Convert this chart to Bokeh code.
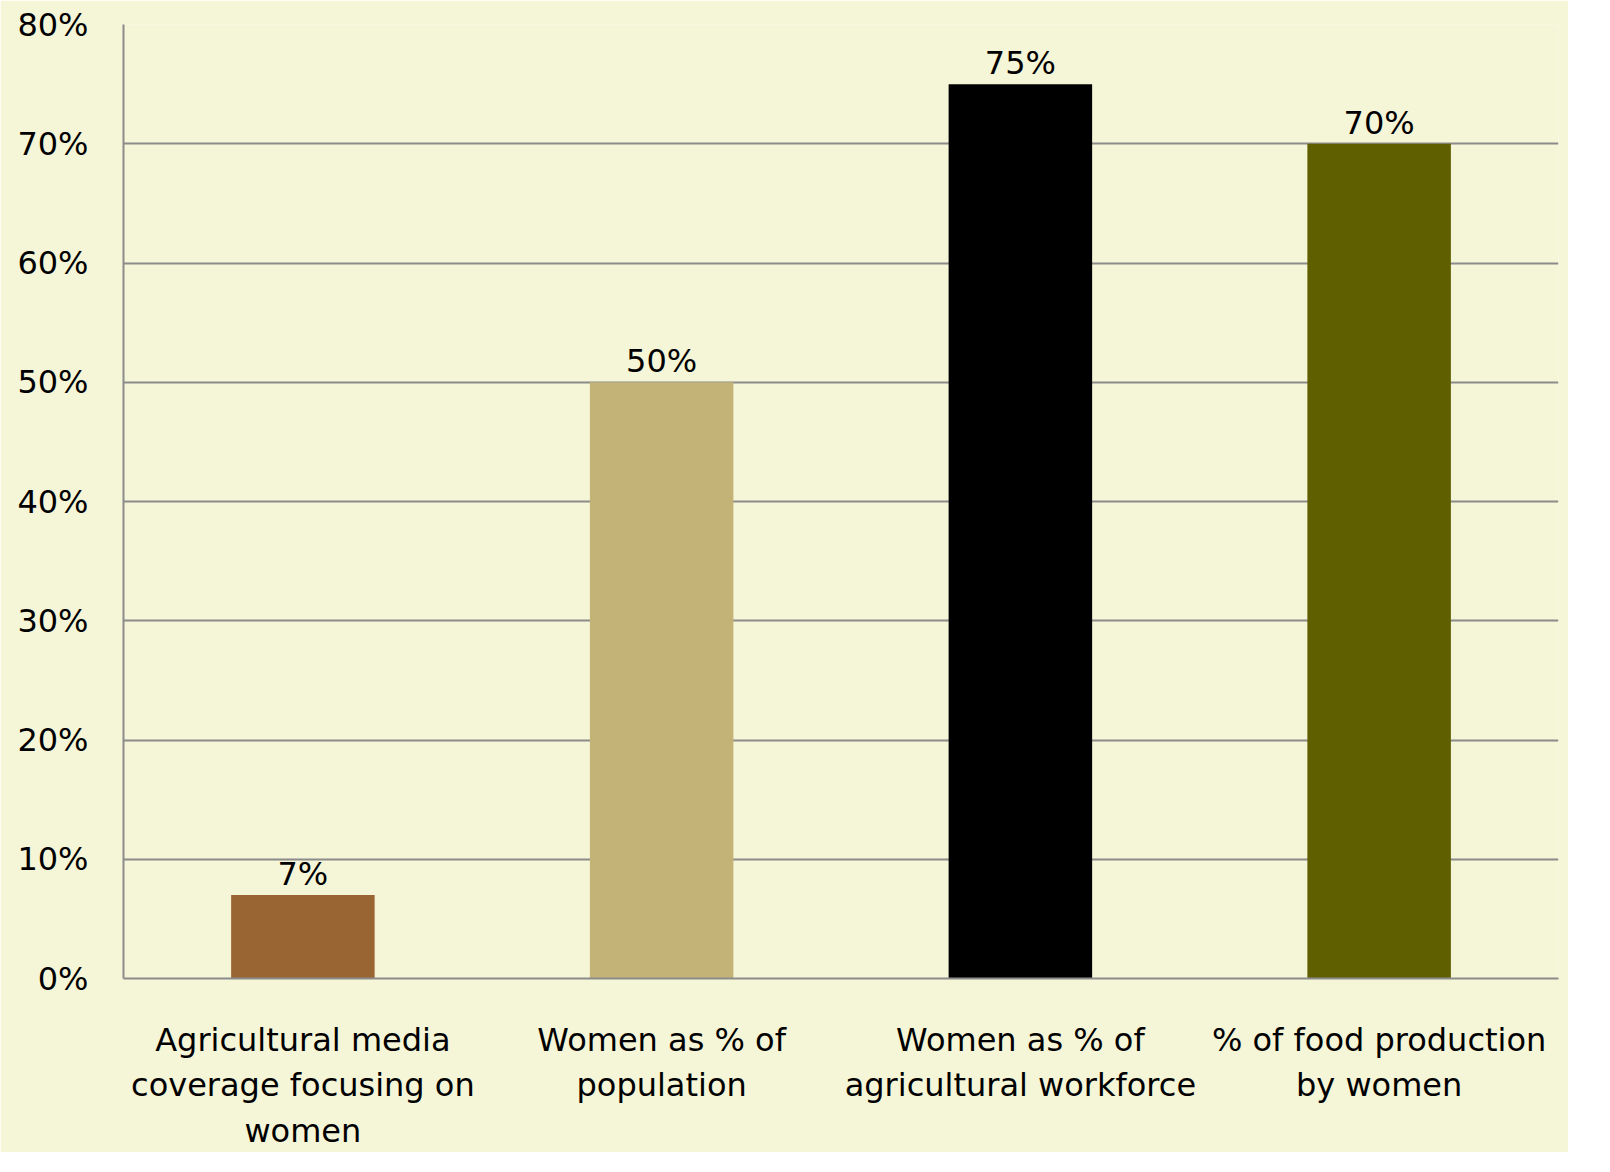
from bokeh.plotting import figure
from bokeh.models import ColumnDataSource, NumeralTickFormatter, FixedTicker
from bokeh.core.properties import value
from bokeh.embed import file_html
from bokeh.resources import INLINE

categories = [
    "Agricultural media\ncoverage focusing on\nwomen",
    "Women as % of\npopulation",
    "Women as % of\nagricultural workforce",
    "% of food production\nby women",
]
values = [7, 50, 75, 70]
bar_labels = ["7%", "50%", "75%", "70%"]
colors = ["#996633", "#C4B377", "#000000", "#5F5F00"]
y_ticks = [0, 10, 20, 30, 40, 50, 60, 70, 80]

FONT = "DejaVu Sans"
BG = "#F5F5D7"

src = ColumnDataSource(dict(cat=categories, val=values, lab=bar_labels, col=colors))

p = figure(
    x_range=categories, y_range=(0, 80),
    frame_width=1435, frame_height=954,
    output_backend="svg", toolbar_location=None,
    min_border_left=123, min_border_right=10, min_border_top=24, min_border_bottom=10,
)
p.background_fill_color = BG
p.border_fill_color = BG
p.outline_line_color = None

p.vbar(x="cat", top="val", width=0.4, fill_color="col", line_color=None, source=src)
p.text(x="cat", y="val", text="lab", source=src, text_align="center", text_baseline="bottom",
       y_offset=-2, text_font=value(FONT), text_font_size="32px", text_color="#000000")

p.xgrid.grid_line_color = None
p.ygrid.grid_line_color = "#8C8C8C"
p.ygrid.grid_line_width = 2
p.yaxis.ticker = FixedTicker(ticks=y_ticks)
p.yaxis.formatter = NumeralTickFormatter(format="0")
p.yaxis.major_label_overrides = {t: f"{t}%" for t in y_ticks}

for ax in (p.xaxis[0], p.yaxis[0]):
    ax.axis_line_color = "#8C8C8C"
    ax.axis_line_width = 2
    ax.major_tick_line_color = None
    ax.minor_tick_line_color = None
    ax.major_label_text_font = FONT
    ax.major_label_text_font_size = "32px"
    ax.major_label_text_color = "#000000"

p.yaxis.major_label_standoff = 29
p.xaxis.major_label_standoff = 36
p.xaxis.major_label_text_line_height = 1.2

open("out.html", "w").write(file_html(p, INLINE))
